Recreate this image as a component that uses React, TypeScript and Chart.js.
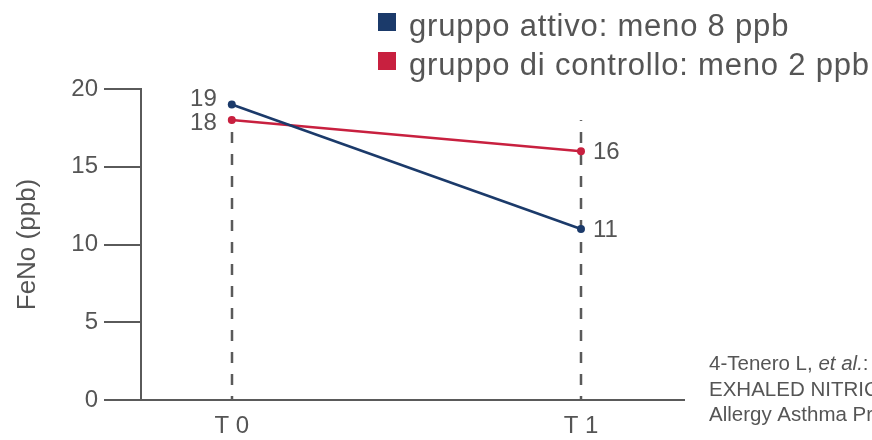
import React, { useEffect, useRef } from "react";
import { Chart, registerables } from "chart.js";

Chart.register(...registerables);

const categories = ["T 0", "T 1"];
const activeValues = [19, 11];
const controlValues = [18, 16];
const seriesLabels = ["gruppo attivo: meno 8 ppb", "gruppo di controllo: meno 2 ppb"];
const yTicks = [0, 5, 10, 15, 20];
const guideTopValue = 18;
const footnoteLines = [
  [
    { text: "4-Tenero L, ", italic: false },
    { text: "et al.", italic: true },
    { text: ": ", italic: false },
  ],
  [{ text: "EXHALED NITRIC OXIDE", italic: false }],
  [{ text: "Allergy Asthma Proc", italic: false }],
];

const NAVY = "#1b3a6a";
const RED = "#c8203f";
const GRAY = "#5a5a5a";
const TEXT = "#555555";
const FONT = "'Liberation Sans', Arial, Helvetica, sans-serif";

const annotate = {
  id: "annotate",
  beforeDatasetsDraw(chart: any) {
    const { ctx, scales } = chart;
    const x = scales.x;
    const y = scales.y;
    ctx.save();
    ctx.strokeStyle = GRAY;
    ctx.lineWidth = 2.5;
    ctx.setLineDash([11, 11]);
    ctx.lineDashOffset = 7;
    categories.forEach((_, i) => {
      const px = Math.round(x.getPixelForValue(i));
      ctx.beginPath();
      ctx.moveTo(px, y.getPixelForValue(0));
      ctx.lineTo(px, y.getPixelForValue(guideTopValue));
      ctx.stroke();
    });
    ctx.restore();
  },
  afterDatasetsDraw(chart: any) {
    const { ctx } = chart;
    ctx.save();
    // value labels
    ctx.fillStyle = TEXT;
    ctx.font = `24px ${FONT}`;
    ctx.textBaseline = "middle";
    const all = chart.data.datasets;
    all.forEach((ds: any, di: number) => {
      const meta = chart.getDatasetMeta(di);
      meta.data.forEach((pt: any, i: number) => {
        const v = ds.data[i].y;
        const first = i === 0;
        let dy = 1;
        all.forEach((o: any, oi: number) => {
          if (oi === di) return;
          const ov = o.data[i].y;
          if (Math.abs(ov - v) < 2) dy = v > ov ? -5 : 3;
        });
        ctx.textAlign = first ? "right" : "left";
        ctx.fillText(String(v), pt.x + (first ? -15 : 12), pt.y + dy);
      });
    });

    // legend
    ctx.textAlign = "left";
    ctx.textBaseline = "alphabetic";
    ctx.font = `31px ${FONT}`;
    (ctx as any).letterSpacing = "0.8px";
    all.forEach((ds: any, di: number) => {
      const top = 13 + di * 39;
      ctx.fillStyle = ds.borderColor;
      ctx.fillRect(378, top, 18, 18);
      ctx.fillStyle = TEXT;
      ctx.fillText(ds.label, 409, top + 23);
    });
    (ctx as any).letterSpacing = "0px";

    // footnote
    ctx.fillStyle = TEXT;
    footnoteLines.forEach((parts, li) => {
      let cx = 709;
      const by = 370 + li * 25.5;
      parts.forEach((p) => {
        ctx.font = `${p.italic ? "italic " : ""}20.5px ${FONT}`;
        ctx.fillText(p.text, cx, by);
        cx += ctx.measureText(p.text).width;
      });
    });
    ctx.restore();
  },
};

export default function App() {
  const ref = useRef<HTMLCanvasElement>(null);
  useEffect(() => {
    if (!ref.current) return;
    const chart = new Chart(ref.current, {
      type: "line",
      data: {
        datasets: [
          {
            label: seriesLabels[0],
            data: categories.map((_, i) => ({ x: i, y: activeValues[i] })),
            borderColor: NAVY,
            backgroundColor: NAVY,
            borderWidth: 2.5,
            pointRadius: 4,
            pointHoverRadius: 4,
            pointBorderWidth: 0,
          },
          {
            label: seriesLabels[1],
            data: categories.map((_, i) => ({ x: i, y: controlValues[i] })),
            borderColor: RED,
            backgroundColor: RED,
            borderWidth: 2.5,
            pointRadius: 4,
            pointHoverRadius: 4,
            pointBorderWidth: 0,
          },
        ],
      },
      options: {
        animation: false,
        responsive: false,
        layout: { padding: { left: 0, top: 89, right: 188, bottom: 0 } },
        plugins: { legend: { display: false }, tooltip: { enabled: false } },
        scales: {
          x: {
            type: "linear",
            min: -0.26,
            max: 1.295,
            afterBuildTicks: (s: any) => {
              s.ticks = categories.map((_, i) => ({ value: i }));
            },
            afterFit: (s: any) => {
              s.height = 40;
            },
            ticks: {
              callback: (v: any) => categories[v as number] ?? "",
              font: { family: FONT, size: 24 },
              color: TEXT,
              padding: 12,
              autoSkip: false,
              maxRotation: 0,
            },
            grid: { display: false, drawTicks: false },
            border: { display: true, color: GRAY, width: 2 },
          },
          y: {
            min: 0,
            max: 20,
            afterBuildTicks: (s: any) => {
              s.ticks = yTicks.map((v) => ({ value: v }));
            },
            afterFit: (s: any) => {
              s.width = 141;
            },
            ticks: {
              font: { family: FONT, size: 24 },
              color: TEXT,
              padding: 6,
            },
            grid: {
              drawOnChartArea: false,
              drawTicks: true,
              tickLength: 37,
              color: GRAY,
              lineWidth: 2,
            },
            border: { display: true, color: GRAY, width: 2 },
            title: {
              display: true,
              text: "FeNo (ppb)",
              font: { family: FONT, size: 26 },
              color: TEXT,
              padding: { top: 12, bottom: 0 },
            },
          },
        },
      },
      plugins: [annotate],
    });
    return () => chart.destroy();
  }, []);
  return (
    <div style={{ position: "fixed", left: 0, top: 0, width: 872, height: 440, background: "#fff" }}>
      <canvas ref={ref} width={872} height={440} />
    </div>
  );
}
